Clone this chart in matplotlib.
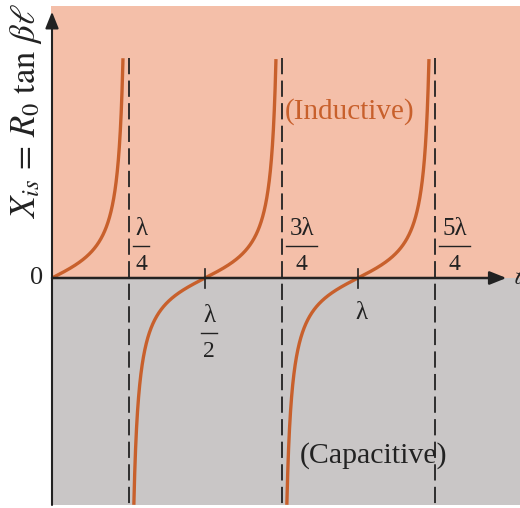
import numpy as np
import matplotlib.pyplot as plt

plt.rcParams['font.family'] = ['Liberation Serif', 'DejaVu Serif']
plt.rcParams['mathtext.fontset'] = 'stix'

# ---------------------------------------------------------
# Data: short-circuited line reactance X = R0 tan(beta*l)
# ---------------------------------------------------------
R0 = 1.0                                   # normalised
asymptotes = [0.25, 0.75, 1.25]            # l / lambda
asym_nums = ['λ', '3λ', '5λ']
asym_dens = ['4', '4', '4']
zero_pts = [0.5, 1.0]
branches = [(0.0, 0.25), (0.25, 0.75), (0.75, 1.25)]
y_top, y_bot = 8.8, -9.08                  # clipping of the drawn curve

pink = '#f4bfa9'
gray = '#c9c6c6'
curve_col = '#c8602c'
ink = '#222222'


def frac(ax, x, y, num, den, w):
    # stacked fraction: numerator / bar / denominator
    ax.text(x, y + 0.68, num, fontsize=18, ha='center', va='center', color=ink, zorder=4)
    ax.plot([x - w / 2, x + w / 2], [y, y], color=ink, lw=1.0, zorder=4)
    ax.text(x, y - 0.74, den, fontsize=17, ha='center', va='center', color=ink, zorder=4)


fig = plt.figure(figsize=(5.2, 5.08), dpi=100)
ax = fig.add_axes([0, 0, 1, 1])
ax.set_xlim(-52 / 306, 468 / 306)
ax.set_ylim(-230 / 25, 278 / 25)
ax.axis('off')

x0 = 51 / 520
ax.axhspan(0, 10.88, xmin=x0, xmax=1, color=pink, lw=0, zorder=0)
ax.axhspan(y_bot, 0, xmin=x0, xmax=1, color=gray, lw=0, zorder=0)

for a, b in branches:
    l = np.linspace(a + 1e-4, b - 1e-4, 4000)
    x = R0 * np.tan(2 * np.pi * l)
    m = (x <= y_top) & (x >= y_bot)
    ax.plot(l[m], x[m], color=curve_col, lw=2.4, zorder=3, solid_capstyle='butt')

# dashed asymptotes and their labels
for a, n, d in zip(asymptotes, asym_nums, asym_dens):
    ax.plot([a, a], [y_top, y_bot], color=ink, lw=1.3, dashes=(9, 3.5), zorder=2)
    w = 0.052 if n == 'λ' else 0.1
    frac(ax, a + 0.016 + w / 2, 1.3, n, d, w)

# zero crossings: ticks and labels
for z in zero_pts:
    ax.plot([z, z], [-0.38, 0.38], color=ink, lw=1.2, zorder=4)
frac(ax, zero_pts[0] + 0.013, -2.2, 'λ', '2', 0.05)
ax.text(zero_pts[1] + 0.01, -1.4, 'λ', fontsize=18, ha='center', va='center', color=ink)

# axes with arrows
ax.annotate('', xy=(1.485, 0), xytext=(0, 0),
            arrowprops=dict(arrowstyle='-|>,head_length=1.0,head_width=0.4',
                            color=ink, lw=1.8, shrinkA=0, shrinkB=0), zorder=5)
ax.annotate('', xy=(0, 10.65), xytext=(0, y_bot),
            arrowprops=dict(arrowstyle='-|>,head_length=1.0,head_width=0.4',
                            color=ink, lw=1.5, shrinkA=0, shrinkB=0), zorder=5)

ax.text(-0.05, 0, '0', fontsize=19, ha='center', va='center', color=ink)
ax.text(-0.086, 11.0, r'$X_{is}\,=\,R_0\ \mathrm{tan}\ \beta\ell$', fontsize=25,
        rotation=90, ha='center', va='top', color=ink)
ax.text(1.507, 0, r'$\ell$', fontsize=20, ha='left', va='center', color=ink)

ax.text(0.76, 6.65, '(Inductive)', fontsize=21, color=curve_col,
        ha='left', va='center', zorder=4)
ax.text(0.81, -7.1, '(Capacitive)', fontsize=21.5, color=ink,
        ha='left', va='center', zorder=4)

fig.savefig('out.png', dpi=100)
